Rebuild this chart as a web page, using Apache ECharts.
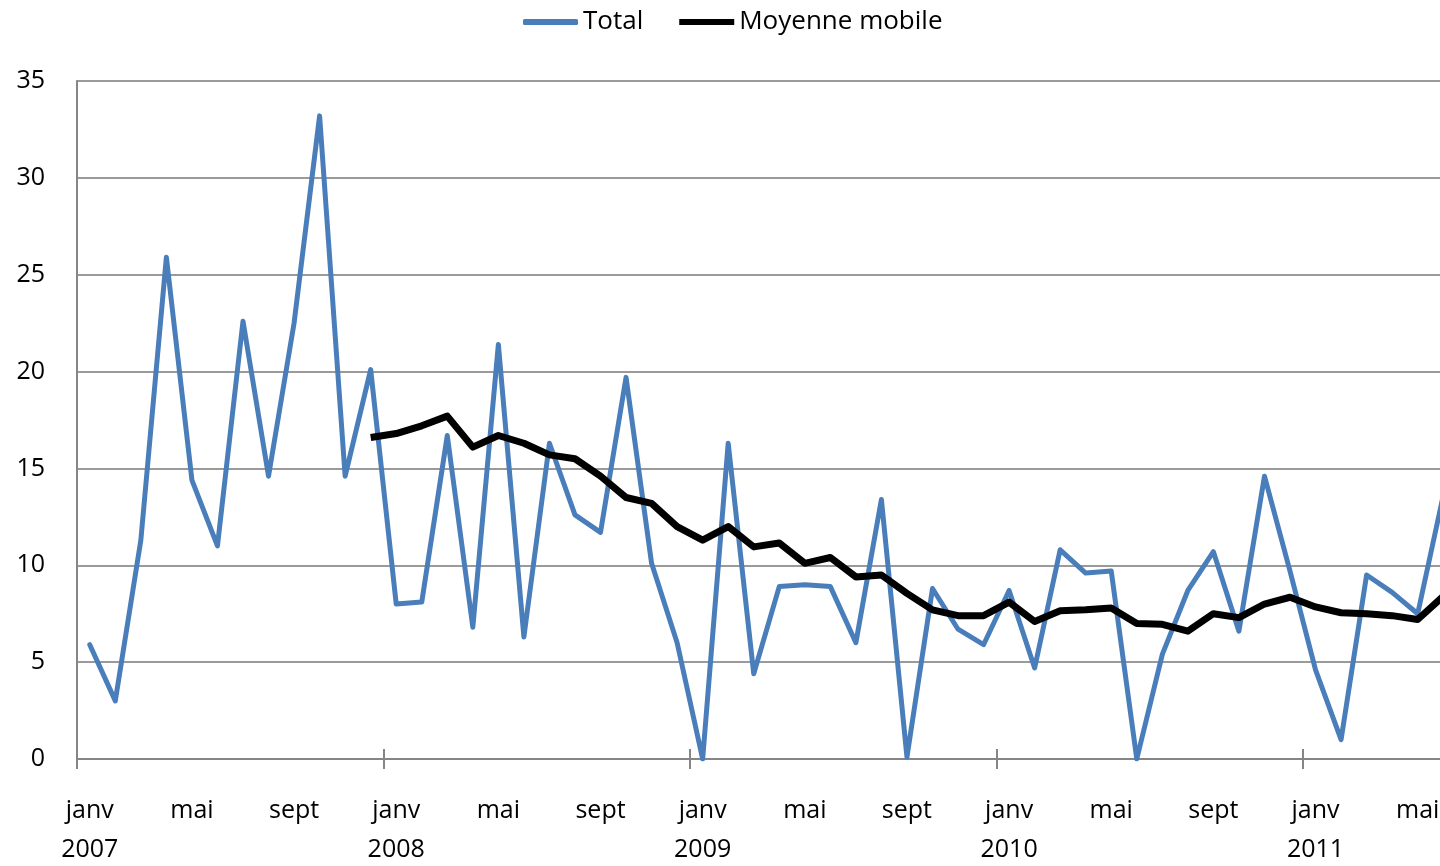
<!DOCTYPE html>
<html>
<head>
<meta charset="utf-8">
<script src="https://cdn.jsdelivr.net/npm/echarts@6/dist/echarts.min.js"></script>
<style>
  html, body { margin: 0; padding: 0; background: #fff; }
  #chart { width: 1440px; height: 866px; }
</style>
</head>
<body>
<div id="chart"></div>
<script>
const monthNames = ['janv', 'févr', 'mars', 'avr', 'mai', 'juin', 'juil', 'août', 'sept', 'oct', 'nov', 'déc'];
const years = [2007, 2008, 2009, 2010, 2011];
const monthCount = 54; // janv 2007 .. juin 2011

const categories = [];
for (let i = 0; i < monthCount; i++) {
  categories.push(monthNames[i % 12] + ' ' + years[Math.floor(i / 12)]);
}

const total = [
  5.9, 3.0, 11.3, 25.9, 14.4, 11.0, 22.6, 14.6, 22.5, 33.2, 14.6, 20.1,
  8.0, 8.1, 16.7, 6.8, 21.4, 6.3, 16.3, 12.6, 11.7, 19.7, 10.1, 6.0,
  0, 16.3, 4.4, 8.9, 9.0, 8.9, 6.0, 13.4, 0.1, 8.8, 6.7, 5.9,
  8.7, 4.7, 10.8, 9.6, 9.7, 0, 5.4, 8.7, 10.7, 6.6, 14.6, 9.7,
  4.6, 1.0, 9.5, 8.6, 7.5, 13.6
];

const moyenneMobile = [
  null, null, null, null, null, null, null, null, null, null, null, 16.6,
  16.8, 17.2, 17.7, 16.1, 16.7, 16.3, 15.7, 15.5, 14.6, 13.5, 13.2, 12.0,
  11.3, 12.0, 10.95, 11.15, 10.1, 10.4, 9.4, 9.5, 8.55, 7.7, 7.4, 7.4,
  8.1, 7.1, 7.65, 7.7, 7.8, 7.0, 6.95, 6.6, 7.5, 7.3, 8.0, 8.35,
  7.85, 7.55, 7.5, 7.4, 7.2, 8.4
];

const font = '"Open Sans", "Noto Sans", sans-serif';
const axisGrey = '#868686';
const gridGrey = '#9a9a9a';

const chart = echarts.init(document.getElementById('chart'));
chart.setOption({
  animation: false,
  legend: {
    data: [
      { name: 'Total', icon: 'roundRect' },
      { name: 'Moyenne mobile', icon: 'rect' },
    ],
    left: 523,
    top: 7,
    padding: 0,
    itemWidth: 55,
    itemHeight: 6,
    itemGap: 36,
    textStyle: { fontSize: 26, color: '#000', fontFamily: font, lineHeight: 30 },
  },
  grid: {
    left: 77,
    top: 81,
    right: -16,
    bottom: 107,
    outerBoundsMode: 'none',
  },
  xAxis: [
    {
      type: 'category',
      data: categories,
      axisLine: { show: true, lineStyle: { color: axisGrey, width: 2 } },
      axisTick: { show: true, interval: 11, length: 10, lineStyle: { color: axisGrey, width: 2 } },
      axisLabel: {
        interval: 3,
        margin: 32,
        fontSize: 25,
        lineHeight: 39,
        color: '#000',
        fontFamily: font,
        formatter: (value) => {
          const parts = value.split(' ');
          return parts[0] === 'janv' ? parts[0] + '\n' + parts[1] : parts[0];
        },
      },
      splitLine: { show: false },
    },
    {
      type: 'category',
      data: categories,
      position: 'bottom',
      axisLine: { show: false },
      axisTick: { show: true, inside: true, interval: 11, length: 10, lineStyle: { color: axisGrey, width: 2 } },
      axisLabel: { show: false },
      splitLine: { show: false },
    },
  ],
  yAxis: {
    type: 'value',
    min: 0,
    max: 35,
    interval: 5,
    axisLine: { show: true, lineStyle: { color: axisGrey, width: 2 } },
    axisTick: { show: false },
    axisLabel: { margin: 32, fontSize: 25, color: '#000', fontFamily: font },
    splitLine: { show: true, lineStyle: { color: gridGrey, width: 2 } },
  },
  series: [
    {
      name: 'Total',
      type: 'line',
      data: total,
      showSymbol: false,
      symbol: 'none',
      itemStyle: { color: '#4a7ebb' },
      lineStyle: { color: '#4a7ebb', width: 5, cap: 'round', join: 'round' },
    },
    {
      name: 'Moyenne mobile',
      type: 'line',
      data: moyenneMobile,
      showSymbol: false,
      symbol: 'none',
      itemStyle: { color: '#000' },
      lineStyle: { color: '#000', width: 7, cap: 'butt', join: 'round' },
    },
  ],
});
</script>
</body>
</html>
